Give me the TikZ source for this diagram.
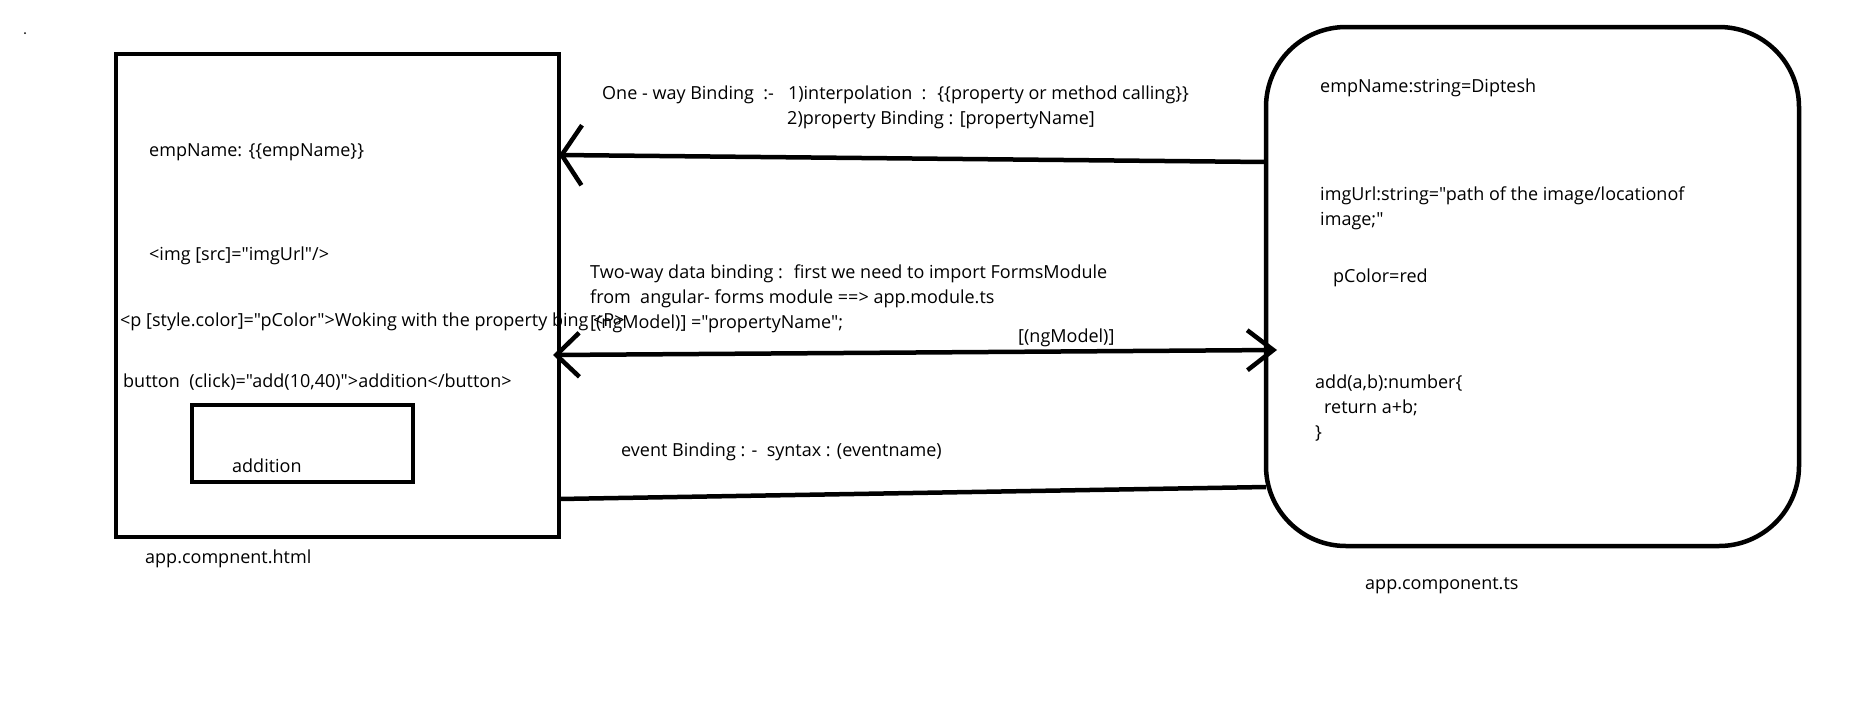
\documentclass[tikz,border=0pt]{standalone}
\usepackage{fontspec}
\setmainfont{Open Sans}[Ligatures=TeXOff]
\usetikzlibrary{arrows.meta,positioning}

\tikzset{
  lbl/.style={anchor=west, inner sep=0pt, align=left, font=\fontsize{18}{25}\selectfont},
  boxline/.style={draw, line width=4.5pt, inner sep=0pt, outer sep=0pt},
  linkline/.style={line width=4.5pt}
}

\begin{document}
\begin{tikzpicture}[x=1pt,y=-1pt]
    \useasboundingbox (0,0) rectangle (1864,702);
    \fill (25,33) circle (1pt);

    % Boxes
    \node[boxline, minimum width=443pt, minimum height=483pt] (html) at (337.5,295.5) {}; % template
    \node[boxline, minimum width=533pt, minimum height=519pt, rounded corners=80pt] (ts) at (1532.5,286.5) {}; % class
    \node[boxline, line width=4pt, minimum width=221pt, minimum height=77pt] (btn) at (302.5,443.5) {}; % button

    % Template side
    \node[lbl] (tplname) at (149,152) {empName: \{\{empName\}\}};
    \node[lbl] (tplimg) at (149,256) {<img [src]="imgUrl"/>};
    \node[lbl] (tplpara) at (120,322) {<p [style.color]="pColor">Woking with the property bing <P>};
    \node[lbl] (tplbtn) at (123,382) {button~ (click)="add(10,40)">addition</button>};
    \node[lbl] (btnlbl) at (232,466) {addition};
    \node[lbl] (htmlname) at (145,559) {app.compnent.html};

    % Class side
    \node[lbl] (clsname) at (1320,88) {empName:string=Diptesh};
    \node[lbl] (clsimg) at (1320,208) {imgUrl:string="path of the image/locationof\\image;"};
    \node[lbl] (clscolor) at (1333,278) {pColor=red};
    \node[lbl] (clsadd) at (1315,408) {add(a,b):number\{\\\hspace*{9pt}return a+b;\\\}};
    \node[lbl] (tsname) at (1365,586) {app.component.ts};

    % Bindings
    \node[lbl] (oneway) at (602,107) {One - way Binding~ :-~~ 1)interpolation~ :~ \{\{property or method calling\}\}\\\hspace*{185pt}2)property Binding : [propertyName]};
    \node[lbl] (twoway) at (590,299) {Two-way data binding :~ first we need to import FormsModule\\from~ angular- forms module ==> app.module.ts\\{}[(ngModel)] ="propertyName";};
    \node[lbl] (ngmodel) at (1018,338) {[(ngModel)]};
    \node[lbl] (event) at (621,452) {event Binding : -~ syntax : (eventname)};

    \draw[linkline, -{Straight Barb[length=20pt,width=60pt]}] ([yshift=124.5pt]ts.west) -- ([yshift=140.5pt]html.east);
    \draw[linkline, {Straight Barb[length=23pt,width=44pt]}-{Straight Barb[length=26pt,width=40pt]}] ([xshift=-6pt,yshift=-59.5pt]html.east) -- ([xshift=11pt,yshift=-63.5pt]ts.west);
    \draw[linkline] ([yshift=-203.5pt]html.east) -- ([yshift=-200.5pt]ts.west);
\end{tikzpicture}
\end{document}
